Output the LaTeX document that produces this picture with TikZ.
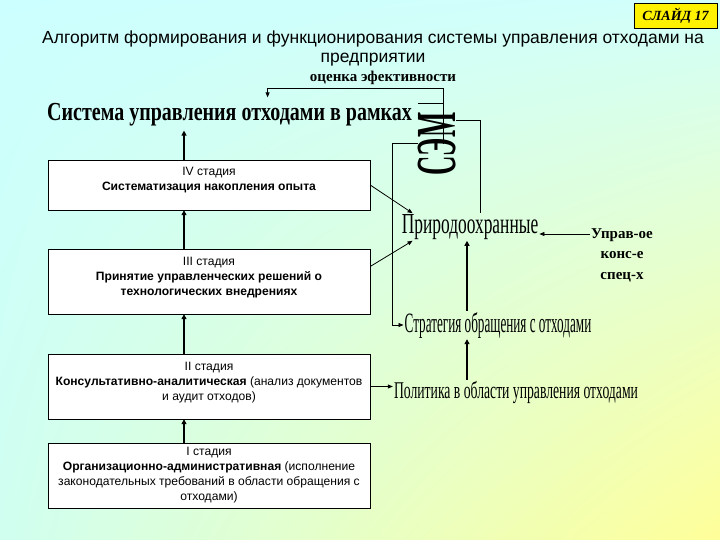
\documentclass[tikz,border=0pt]{standalone}
\usepackage{fontspec}
\setmainfont{Liberation Sans}
\newfontfamily\wordart{Liberation Serif}
\usetikzlibrary{arrows.meta,shadings}
\definecolor{bgcyan}{HTML}{CCFFFF}
\definecolor{bgcyantop}{HTML}{D2FFFA}
\definecolor{bgcyanlow}{HTML}{D0FFF0}
\definecolor{bgyellow}{HTML}{FFFF99}

\begin{document}
\begin{tikzpicture}[x=1pt,y=-1pt,
    stage/.style={draw, fill=white, minimum width=322pt, minimum height=65pt,
      align=center, inner sep=2pt, font=\fontsize{12.1}{15}\selectfont},
    big/.style={inner sep=1pt, font=\wordart},
    up/.style={line width=1.6pt, -{Triangle[length=5pt,width=5pt]}},
    link/.style={line width=0.8pt},
    tip/.style={-{Triangle[length=5pt,width=4pt]}}]
  \shade[upper left=bgcyan, upper right=bgcyantop, lower left=bgcyanlow,
    lower right=bgyellow] (0,0) rectangle (720,540);
  \useasboundingbox (0,0) rectangle (720,540);

  \node[draw, fill=yellow, minimum width=83pt, minimum height=25pt,
    font=\wordart\bfseries\itshape\fontsize{14}{14}\selectfont] (slide) at (675.5,15.5) {СЛАЙД 17};
  \node[align=center, font=\fontsize{17.5}{19}\selectfont] (title) at (373,48)
    {Алгоритм формирования и функционирования системы управления отходами на\\предприятии};
  \node[big, font=\wordart\bfseries\fontsize{15}{15}\selectfont] (eval) at (383,78) {оценка эфективности};
  \node[big, anchor=west] (sys) at (46,115)
    {\scalebox{0.77}[1]{\bfseries\fontsize{26}{26}\selectfont Система управления отходами в рамках}};
  \node[inner sep=0pt] (sem) at (437,144)
    {\resizebox{38pt}{63pt}{\rotatebox{90}{\wordart\bfseries СЭМ}}};

  % stages
  \node[stage, minimum height=50pt] (st4) at (209,185)
    {IV стадия\\\textbf{Систематизация накопления опыта}\\[-3pt]};
  \node[stage] (st3) at (209,281.5)
    {III стадия\\\textbf{Принятие управленческих решений о}\\\textbf{технологических внедрениях}\\[-4pt]};
  \node[stage] (st2) at (209,386.5)
    {II стадия\\\textbf{Консультативно-аналитическая} (анализ документов\\и аудит отходов)\\[-4pt]};
  \node[stage] (st1) at (209,475.5)
    {I стадия\\\textbf{Организационно-административная} (исполнение\\законодательных требований в области обращения с\\отходами)};

  \node[big] (prir) at (470,227)
    {\scalebox{0.6}[1]{\fontsize{29}{29}\selectfont Природоохранные}};
  \node[align=center, inner sep=1pt, font=\wordart\bfseries\fontsize{15}{20.5}\selectfont] (uprav) at (622,255)
    {Управ-ое\\конс-е\\спец-х};
  \node[big] (strat) at (498,325)
    {\scalebox{0.47}[1]{\fontsize{28}{28}\selectfont Стратегия обращения с отходами}};
  \node[big] (polit) at (516,392)
    {\scalebox{0.57}[1]{\fontsize{24}{24}\selectfont Политика в области управления отходами}};

  \draw[up] ([xshift=-25pt]st1.north) -- ([xshift=-25pt]st2.south);
  \draw[up] ([xshift=-25pt]st2.north) -- ([xshift=-25pt]st3.south);
  \draw[up] ([xshift=-25pt]st3.north) -- ([xshift=-25pt]st4.south);
  \draw[up] ([xshift=-25pt]st4.north) -- ([xshift=-25pt,yshift=-3pt]st4.north |- sys.south);

  \draw[link, tip] (st4.east) -- ([xshift=12pt]prir.north west);
  \draw[link, tip] ([yshift=15pt]st3.east) -- ([xshift=12pt]prir.south west);
  \draw[link, tip] (st2.east) -- (st2.east -| polit.west);
  \draw[up] ([xshift=-49pt]polit.north) -- ([xshift=-49pt]polit.north |- strat.south);
  \draw[up] ([xshift=-31pt]strat.north) -- ([xshift=-31pt]strat.north |- prir.south);
  \draw[link, tip] ([yshift=-7pt]prir.east -| uprav.west) -- ([yshift=-7pt]prir.east);

  % feedback
  \coordinate (fb) at (443,88);
  \draw[link, tip] ([xshift=6pt]sem.center) -- (fb) -| ([xshift=38pt,yshift=5pt]sys.north);
  \draw[link] ([yshift=9pt]sem.north west) -- ++(25,0);
  \draw[link] ([yshift=24pt]sem.east) -| ([xshift=10pt]prir.north);
  \draw[link, tip] ([yshift=1pt]sem.west) -- ++(-25,0) |- (strat.west);
\end{tikzpicture}
\end{document}
